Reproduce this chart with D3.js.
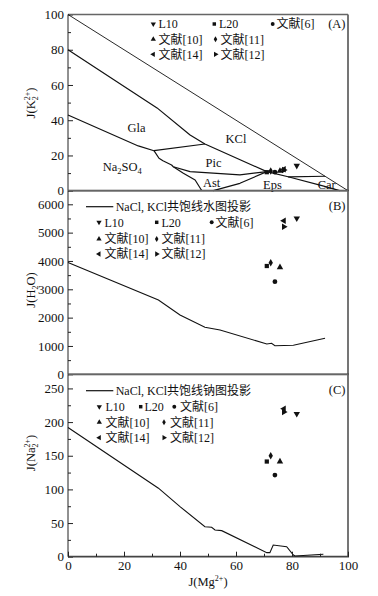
<!DOCTYPE html>
<html><head><meta charset="utf-8">
<script src="https://cdn.jsdelivr.net/npm/d3@7"></script>
<style>
body{margin:0;background:#fff}
text{font-family:"Liberation Serif","Noto Sans CJK SC",serif;fill:#111}
</style>
</head><body><svg id="c" width="378" height="596"></svg>
<script>
// ---------------- DATA ----------------
const series = ["L10","L20","文献[6]","文献[10]","文献[11]","文献[14]","文献[12]"];
const seriesSymbols = ["down","square","circle","up","diamond","left","right"];
const ptMg  = [81.7, 71.0, 73.9, 75.7, 72.4, 77.1, 77.1];
const ptK2  = [14.2, 10.5, 10.5, 11.2, 11.2, 12.2, 11.8];
const ptH2O = [5506, 3822, 3268, 3776, 3939, 5421, 5209];
const ptNa2 = [212.4, 141.4, 121.3, 141.4, 149.9, 220, 215];

// Phase boundaries, panel A  [J(Mg2+), J(K2 2+)]
const bChloride = [[0,100],[100,0]];
const bKCl      = [[0,80],[31.8,47],[43.6,31.6],[48.9,26.5],[71,10.8],[78.6,7.9]];
const bGlaNa    = [[0,43],[25.1,25.4],[30.7,22.7]];
const bGlaPic   = [[30.7,22.7],[48.9,26.5]];
const bNaPic    = [[30.7,22.7],[32.5,18.4],[33.9,17.0],[37.0,14.6],[37.6,13.6]];
const bPicAst   = [[37.6,13.6],[43.6,10.8],[61.4,9.0],[71,10.8]];
const bNaAst    = [[37.6,13.6],[41.2,9.9],[45.4,6.1],[47.8,0]];
const bAstEps   = [[51.9,0],[61.4,4.2],[71,10.8]];
const bKClCar   = [[78.6,7.9],[91.8,8.2]];
const bEpsCar   = [[78.6,7.9],[91,2.7],[97,0]];
const fieldNames = ["Gla","KCl","Pic","Ast","Eps","Car"];
const fieldMg = [24.5, 60, 52, 51.3, 73, 92.4];
const fieldK2 = [36, 29.5, 16, 4.5, 3.5, 3.5];

// Saturation line projections
const h2oLineMg = [0, 32.3, 40, 48.9, 54.3, 71, 72.7, 73.9, 80.5, 91.8];
const h2oLine   = [3950, 2622, 2093, 1659, 1564, 1069, 1094, 1009, 1024, 1271];
const naLineMg  = [0, 32.3, 40, 48.9, 51.3, 52.5, 54.9, 71, 72.1, 73.3, 78.1, 80.5, 81.1, 91.2];
const naLine    = [192, 101.8, 74.4, 44.6, 43.7, 39.7, 38.7, 6, 6, 17.4, 14.9, 2.5, 1, 3.6];

const xTicks = [0,20,40,60,80,100];
const yTicksA = [0,20,40,60,80,100];
const yTicksB = [0,1000,2000,3000,4000,5000,6000];
const yTicksC = [0,50,100,150,200,250];

// ---------------- LAYOUT ----------------
const svg = d3.select("#c");
const L = 68, R = 348;
const x = d3.scaleLinear().domain([0,100]).range([L,R]);
const yA = d3.scaleLinear().domain([0,100]).range([190.7,14.5]);
const yB = d3.scaleLinear().domain([0,6480]).range([374.3,190.7]);
const yC = d3.scaleLinear().domain([0,271]).range([556.7,374.3]);
const fmt = d3.format("d");

function symPath(kind, size){
  let rot = 0;
  if(kind==="square") return {d:d3.symbol(d3.symbolSquare, size)(), rot:0};
  if(kind==="circle") return {d:d3.symbol(d3.symbolCircle, size)(), rot:0};
  if(kind==="diamond") return {d:d3.symbol(d3.symbolDiamond, size*0.9)(), rot:0};
  if(kind==="down") rot=180; if(kind==="left") rot=-90; if(kind==="right") rot=90;
  return {d:d3.symbol(d3.symbolTriangle, size)(), rot:rot};
}
function marker(g, kind, cx, cy, size){
  const s = symPath(kind,size);
  g.append("path").attr("d",s.d).attr("fill","#111")
    .attr("transform",`translate(${cx},${cy}) rotate(${s.rot})`);
}

function panel(y, ticks, minorStep, top, bottom){
  const g = svg.append("g");
  const minor = d3.range(ticks[0], y.domain()[1], minorStep).filter(v=>!ticks.includes(v));
  g.append("g").attr("transform",`translate(${L},0)`)
    .call(d3.axisLeft(y).tickValues(minor).tickSizeInner(-3).tickSizeOuter(0).tickFormat(""))
    .call(a=>a.select(".domain").remove()).selectAll("line").attr("stroke","#222");
  g.append("g").attr("transform",`translate(${L},0)`)
    .call(d3.axisLeft(y).tickValues(ticks).tickFormat(fmt).tickSizeInner(-5).tickSizeOuter(0).tickPadding(4))
    .call(a=>a.select(".domain").remove())
    .call(a=>a.selectAll("text").attr("font-size",13).attr("fill","#111"))
    .selectAll("line").attr("stroke","#222");
  g.append("line").attr("x1",L).attr("x2",R).attr("y1",top).attr("y2",top).attr("stroke","#666").attr("stroke-width",1.3);
  g.append("line").attr("x1",R).attr("x2",R).attr("y1",top).attr("y2",bottom).attr("stroke","#666").attr("stroke-width",1.8);
  g.append("line").attr("x1",L).attr("x2",L).attr("y1",top).attr("y2",bottom).attr("stroke","#222").attr("stroke-width",1);
  g.append("line").attr("x1",L).attr("x2",R+1).attr("y1",bottom).attr("y2",bottom).attr("stroke","#444").attr("stroke-width",1.8);
  return g;
}

const gA = panel(yA, yTicksA, 10, 14.5, 190.7);
const gB = panel(yB, yTicksB, 500, 190.7, 374.3);
const gC = panel(yC, yTicksC, 25, 374.3, 556.7);

// x axis bottom of C
const gx = svg.append("g").attr("transform",`translate(0,${yC(0)})`);
gx.append("g").call(d3.axisBottom(x).tickValues([10,30,50,70,90]).tickSizeInner(-3).tickSizeOuter(0).tickFormat(""))
  .call(a=>a.select(".domain").remove()).selectAll("line").attr("stroke","#222");
gx.append("g").call(d3.axisBottom(x).tickValues(xTicks).tickFormat(fmt).tickSizeInner(-5).tickSizeOuter(0).tickPadding(4))
  .call(a=>a.select(".domain").remove())
  .call(a=>a.selectAll("text").attr("font-size",13).attr("fill","#111"))
  .selectAll("line").attr("stroke","#222");

// ---------------- PANEL A lines ----------------
const lineA = d3.line().x(d=>x(d[0])).y(d=>yA(d[1]));
gA.append("path").attr("d",lineA(bChloride)).attr("fill","none").attr("stroke","#111").attr("stroke-width",0.9);
[bKCl,bGlaNa,bGlaPic,bNaPic,bPicAst,bNaAst,bAstEps,bKClCar,bEpsCar].forEach(b=>{
  gA.append("path").attr("d",lineA(b)).attr("fill","none").attr("stroke","#111").attr("stroke-width",1.2).attr("stroke-linejoin","round");
});
fieldNames.forEach((n,i)=>{
  gA.append("text").attr("x",x(fieldMg[i])).attr("y",yA(fieldK2[i])).attr("text-anchor","middle")
    .attr("dy","0.35em").attr("font-size",12.5).text(n);
});
const naT = gA.append("text").attr("x",x(19.4)).attr("y",yA(13.6)).attr("text-anchor","middle").attr("dy","0.35em").attr("font-size",12.5);
naT.append("tspan").text("Na");
naT.append("tspan").attr("font-size",8.5).attr("dy",3).text("2");
naT.append("tspan").attr("dy",-3).text("SO");
naT.append("tspan").attr("font-size",8.5).attr("dy",3).text("4");

series.forEach((s,i)=>marker(gA, seriesSymbols[i], x(ptMg[i]), yA(ptK2[i]), 18));

// ---------------- PANEL B ----------------
const lineB = d3.line().x((d,i)=>x(h2oLineMg[i])).y(d=>yB(d));
gB.append("path").attr("d",lineB(h2oLine)).attr("fill","none").attr("stroke","#111").attr("stroke-width",1.1);
series.forEach((s,i)=>marker(gB, seriesSymbols[i], x(ptMg[i]), yB(ptH2O[i]), 18));

// ---------------- PANEL C ----------------
const lineC = d3.line().x((d,i)=>x(naLineMg[i])).y(d=>yC(d));
gC.append("path").attr("d",lineC(naLine)).attr("fill","none").attr("stroke","#111").attr("stroke-width",1.1);
series.forEach((s,i)=>marker(gC, seriesSymbols[i], x(ptMg[i]), yC(ptNa2[i]), 18));

// ---------------- LEGENDS ----------------
function legend(g, items){
  items.forEach(it=>{
    const idx = series.indexOf(it[0]);
    marker(g, seriesSymbols[idx], it[1], it[2], 12);
    g.append("text").attr("x",it[3]).attr("y",it[2]).attr("dy","0.35em").attr("font-size",12).text(it[0]);
  });
}
legend(gA, [["L10",153.3,24,158.5],["L20",214.3,24,219],["文献[6]",272.7,24,276.5],
            ["文献[10]",153.3,39.3,158.5],["文献[11]",215.5,39.3,220.5],
            ["文献[14]",153.3,54.3,158.5],["文献[12]",215.5,54.3,220.5]]);
legend(gB, [["L10",99,222.3,104.5],["L20",156.7,222.3,161.5],["文献[6]",211.7,222.3,215.5],
            ["文献[10]",99,239,104.5],["文献[11]",156.7,239,161.5],
            ["文献[14]",99,254,104.5],["文献[12]",156.7,254,161.5]]);
legend(gC, [["L10",99.3,406.7,105.5],["L20",140.7,406.7,144.5],["文献[6]",174.3,406.7,180],
            ["文献[10]",99.3,422.3,105.5],["文献[11]",164,422.3,170],
            ["文献[14]",99.3,437.7,105.5],["文献[12]",164,437.7,170]]);

function lineLegend(g, y, label){
  g.append("line").attr("x1",86).attr("x2",113.3).attr("y1",y).attr("y2",y).attr("stroke","#111").attr("stroke-width",1.2);
  g.append("text").attr("x",115.7).attr("y",y).attr("dy","0.35em").attr("font-size",12).text(label);
}
lineLegend(gB, 206.7, "NaCl, KCl共饱线水图投影");
lineLegend(gC, 390.7, "NaCl, KCl共饱线钠图投影");

[["(A)",24],["(B)",205.7],["(C)",389.3]].forEach(t=>{
  svg.append("text").attr("x",345.5).attr("y",t[1]).attr("dy","0.35em").attr("text-anchor","end").attr("font-size",12.5).text(t[0]);
});

// ---------------- AXIS TITLES ----------------
function yTitle(cy, parts){
  const t = svg.append("text").attr("transform",`translate(35,${cy}) rotate(-90)`).attr("text-anchor","middle").attr("font-size",12.5);
  parts(t);
}
yTitle(103, t=>{
  t.append("tspan").text("J(K");
  t.append("tspan").attr("font-size",8).attr("dy",3).text("2");
  t.append("tspan").attr("font-size",8).attr("dx",-4).attr("dy",-8).text("2+");
  t.append("tspan").attr("dy",5).text(")");
});
yTitle(290, t=>{
  t.append("tspan").text("J(H");
  t.append("tspan").attr("font-size",8).attr("dy",3).text("2");
  t.append("tspan").attr("dy",-3).text("O)");
});
yTitle(453, t=>{
  t.append("tspan").text("J(Na");
  t.append("tspan").attr("font-size",8).attr("dy",3).text("2");
  t.append("tspan").attr("font-size",8).attr("dx",-4).attr("dy",-8).text("2+");
  t.append("tspan").attr("dy",5).text(")");
});
const xt = svg.append("text").attr("x",208).attr("y",586).attr("text-anchor","middle").attr("font-size",12.5);
xt.append("tspan").text("J(Mg");
xt.append("tspan").attr("font-size",8).attr("dy",-5).text("2+");
xt.append("tspan").attr("dy",5).text(")");
</script>
</body></html>
